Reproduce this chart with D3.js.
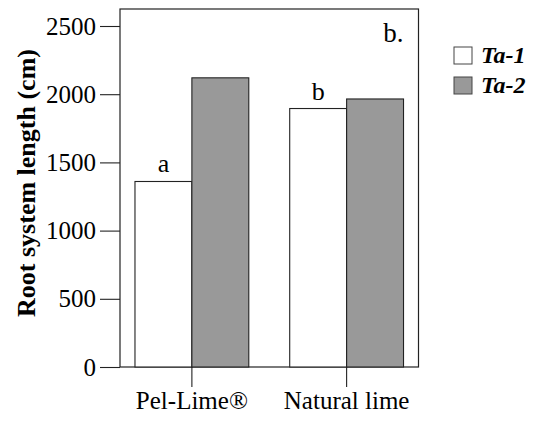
<!DOCTYPE html>
<html>
<head>
<meta charset="utf-8">
<script src="https://cdn.jsdelivr.net/npm/d3@7"></script>
<style>
  html, body { margin: 0; padding: 0; background: #fff; }
  svg text { font-family: "Liberation Serif", "Times New Roman", serif; fill: #000; }
</style>
</head>
<body>
<svg id="chart" width="536" height="424"></svg>
<script>
// Root system length by liming treatment and cultivar
const categories = ["Pel-Lime®", "Natural lime"];
const seriesNames = ["Ta-1", "Ta-2"];
const ta1Values = [1360, 1895];
const ta2Values = [2120, 1965];
const yTicks = [0, 500, 1000, 1500, 2000, 2500];
const letters = ["a", "b"];          // significance letters over Ta-1 bars
const panelLabel = "b.";
const colors = ["#ffffff", "#999999"];

const svg = d3.select("#chart");
const plotLeft = 120, plotRight = 418.5, plotTop = 9, plotBottom = 367;
const plotW = plotRight - plotLeft;
const plotH = plotBottom - plotTop;

const y = d3.scaleLinear().domain([0, 2500]).range([plotH, 26 - plotTop]);
const x0 = d3.scaleBand().domain(categories).range([0, plotW])
  .paddingInner(0.2645).paddingOuter(0.0968);
const x1 = d3.scaleBand().domain(seriesNames).range([0, x0.bandwidth()]);

const g = svg.append("g").attr("transform", `translate(${plotLeft},${plotTop})`);

// frame
g.append("rect").attr("x", 0).attr("y", 0).attr("width", plotW).attr("height", plotH)
  .attr("fill", "none").attr("stroke", "#222").attr("stroke-width", 1.2);

// bars
const rows = categories.map((c, i) => ({ cat: c, vals: [ta1Values[i], ta2Values[i]] }));
const grp = g.selectAll(".grp").data(rows).join("g")
  .attr("transform", d => `translate(${x0(d.cat)},0)`);
grp.selectAll("rect").data(d => d.vals.map((v, j) => ({ s: seriesNames[j], v, j })))
  .join("rect")
  .attr("x", d => x1(d.s))
  .attr("y", d => y(d.v))
  .attr("width", x1.bandwidth())
  .attr("height", d => y(0) - y(d.v))
  .attr("fill", d => colors[d.j])
  .attr("stroke", "#222").attr("stroke-width", 1.1);

// significance letters
grp.append("text")
  .attr("x", x1("Ta-1") + x1.bandwidth() / 2)
  .attr("y", d => y(d.vals[0]) - 9)
  .attr("text-anchor", "middle").attr("font-size", 26)
  .text((d, i) => letters[i]);

// y axis
const yAxis = d3.axisLeft(y).tickValues(yTicks).tickSize(20).tickPadding(4).tickFormat(d3.format("d"));
const ya = g.append("g").call(yAxis);
ya.select(".domain").remove();
ya.selectAll("line").attr("stroke", "#222").attr("stroke-width", 1.1);
ya.selectAll("text").attr("font-size", 25).attr("font-family", "Liberation Serif, serif");

// x axis ticks at group centres
const xa = g.append("g").attr("transform", `translate(0,${plotH})`)
  .call(d3.axisBottom(x0).tickSize(20).tickPadding(4));
xa.select(".domain").remove();
xa.selectAll("line").attr("stroke", "#222").attr("stroke-width", 1.1);
xa.selectAll("text").attr("font-size", 25).attr("font-family", "Liberation Serif, serif");

// axis title
svg.append("text")
  .attr("transform", `translate(35,183) rotate(-90)`)
  .attr("text-anchor", "middle").attr("font-size", 26).attr("font-weight", "bold")
  .text("Root system length (cm)");

// panel label
g.append("text").attr("x", plotW - 15).attr("y", 42 - plotTop).attr("text-anchor", "end")
  .attr("font-size", 27).text(panelLabel);

// legend
const lg = svg.append("g").attr("transform", "translate(454,47)");
const li = lg.selectAll("g").data(seriesNames).join("g")
  .attr("transform", (d, i) => `translate(0,${i * 30})`);
li.append("rect").attr("width", 18).attr("height", 17)
  .attr("fill", (d, i) => colors[i]).attr("stroke", "#444").attr("stroke-width", 1);
li.append("text").attr("x", 27).attr("y", 15.5)
  .attr("font-size", 24).attr("font-weight", "bold").attr("font-style", "italic")
  .text(d => d);
</script>
</body>
</html>
